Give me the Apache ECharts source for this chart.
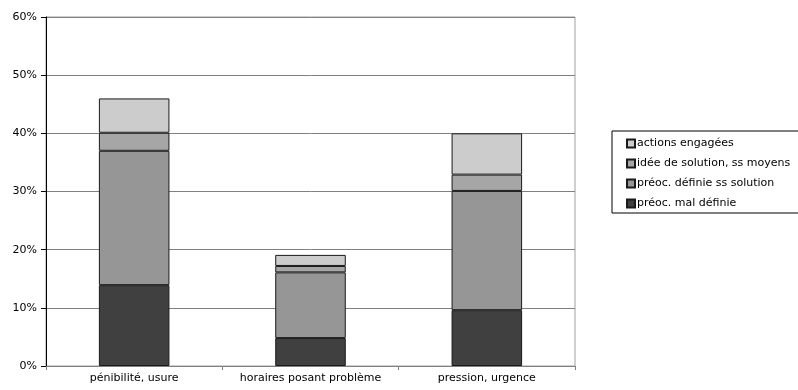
<!DOCTYPE html>
<html><head><meta charset="utf-8">
<script src="https://cdn.jsdelivr.net/npm/echarts@6/dist/echarts.min.js"></script>
<style>html,body{margin:0;padding:0;background:#fff}#c{width:798px;height:390px}</style>
</head><body><div id="c"></div>
<script>
const categories = ['pénibilité, usure', 'horaires posant problème', 'pression, urgence'];
const seriesNames = ['préoc. mal définie', 'préoc. définie ss solution', 'idée de solution, ss moyens', 'actions engagées'];
const malDefinie = [13.9, 4.8, 9.6];
const definieSsSolution = [23.1, 11.3, 20.5];
const ideeSolution = [3.1, 1.1, 2.8];
const actionsEngagees = [5.9, 1.9, 7.1];
const yTicks = [0, 10, 20, 30, 40, 50, 60];
const colors = ['#404040', '#969696', '#a6a6a6', '#cccccc'];
const values = [malDefinie, definieSsSolution, ideeSolution, actionsEngagees];

const font = 'DejaVu Sans, Verdana, sans-serif';
const chart = echarts.init(document.getElementById('c'), null, {renderer: 'canvas'});
chart.setOption({
  animation: false,
  textStyle: {fontFamily: font},
  grid: {left: 46, right: 223, top: 17, bottom: 24, show: true, borderColor: '#a0a0a0', borderWidth: 1},
  legend: {
    orient: 'vertical', left: 612, top: 131,
    data: [seriesNames[3], seriesNames[2], seriesNames[1], seriesNames[0]],
    icon: 'rect', itemWidth: 8, itemHeight: 8, itemGap: 7,
    borderColor: '#000', borderWidth: 1, padding: [6, 30, 3, 14],
    textStyle: {fontSize: 11, lineHeight: 13, color: '#000', fontFamily: font, padding: [0, 0, 0, -3]}
  },
  xAxis: {
    type: 'category', data: categories,
    axisLine: {lineStyle: {color: '#808080', width: 1}},
    axisTick: {show: true, interval: 0, alignWithLabel: false, length: 4, lineStyle: {color: '#808080'}},
    axisLabel: {fontSize: 11, color: '#000', margin: 7, interval: 0}
  },
  yAxis: {
    type: 'value', min: yTicks[0], max: yTicks[yTicks.length - 1], interval: 10,
    axisLine: {show: true, lineStyle: {color: '#000', width: 1}},
    axisTick: {show: true, inside: false, length: 5, lineStyle: {color: '#000'}},
    axisLabel: {fontSize: 11, color: '#000', margin: 9, formatter: v => v + '%'},
    splitLine: {lineStyle: {color: '#808080', width: 1}}
  },
  series: seriesNames.map((n, i) => ({
    name: n, type: 'bar', stack: 'total', data: values[i], barWidth: '40%',
    itemStyle: {color: colors[i], borderColor: '#1a1a1a', borderWidth: 1}
  }))
});
</script></body></html>
